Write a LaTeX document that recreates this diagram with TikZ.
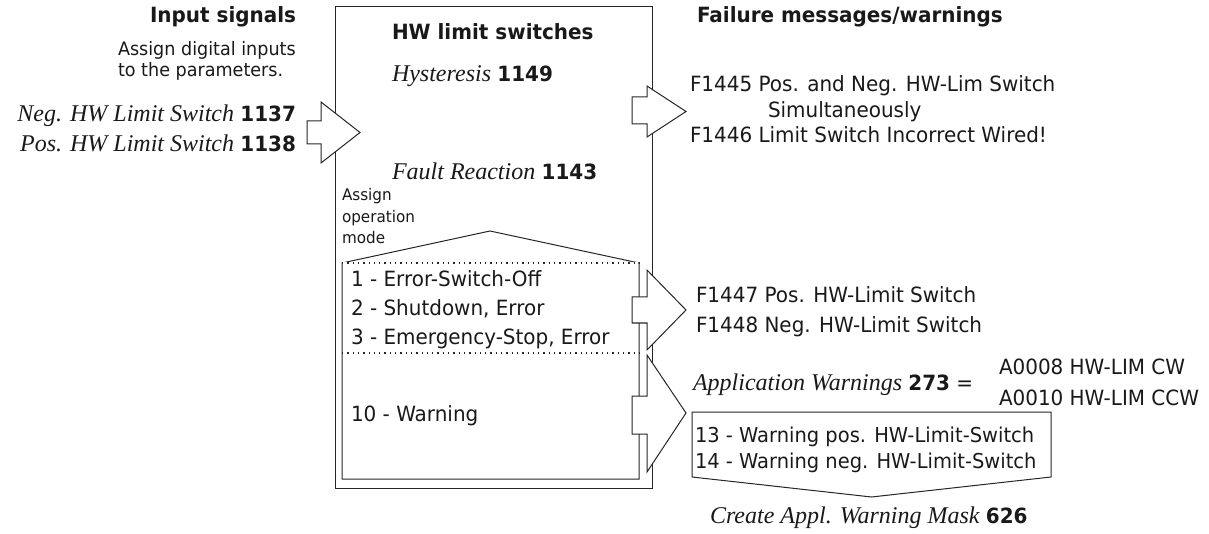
\documentclass[tikz,border=0pt]{standalone}
\usepackage{fontspec}
\setmainfont{Liberation Serif}
\setsansfont{DejaVu Sans}[FakeStretch=0.95]
\newcommand\pit[1]{{\rmfamily\itshape\fontsize{24}{24}\selectfont #1}}
\newcommand\pnum[1]{{\sffamily\bfseries\fontsize{21}{21}\selectfont #1}}
\begin{document}
\begin{tikzpicture}[x=1pt,y=-1pt,
  txt/.style={inner sep=0pt,outer sep=0pt,anchor=base west,text=black!90,font=\sffamily\fontsize{21}{21}\selectfont},
  txtr/.style={txt,anchor=base east},
  headtxt/.style={txt,font=\sffamily\bfseries\fontsize{21}{21}\selectfont},
  smalltxt/.style={txt,font=\sffamily\fontsize{18.5}{18.5}\selectfont},
  tinytxt/.style={txt,font=\sffamily\fontsize{16}{16}\selectfont},
  ln/.style={draw=black!85,line width=1pt,line join=miter},
  dotln/.style={draw=black!85,line width=1.3pt,dash pattern=on 1.3pt off 4pt},
  blockarrow/.style={ln,fill=white}]
\useasboundingbox (0,0) rectangle (1209,534);

% ---------- left: input signals
\node[headtxt,anchor=base east] (insig) at (296,23) {Input signals};
\node[smalltxt] (assign1) at (118,56) {Assign digital inputs};
\node[smalltxt] (assign2) at (118,77) {to the parameters.};
\node[txtr] (neg) at (296,122) {\pit{Neg. HW Limit Switch} \pnum{1137}};
\node[txtr] (pos) at (296,152) {\pit{Pos. HW Limit Switch} \pnum{1138}};

% ---------- main box
\draw[ln] (335,7) rectangle (652,488);
\node[headtxt] (hwtitle) at (392,40) {HW limit switches};
\node[txt] (hyst) at (392,82) {\pit{Hysteresis} \pnum{1149}};
\node[txt] (fault) at (392,180) {\pit{Fault Reaction} \pnum{1143}};
\node[tinytxt] (am1) at (342,201) {Assign};
\node[tinytxt] (am2) at (342,222.5) {operation};
\node[tinytxt] (am3) at (342,244) {mode};

% inner operation-mode box
\draw[ln] (342,263) -- (490,231) -- (639,263) -- (639,479) -- (342,479) -- cycle;
\draw[white,line width=1.2pt] (343,263) -- (638,263);
\draw[dotln] (342,263) -- (639,263);
\draw[dotln] (342,353) -- (639,353);
\node[txt] (m1) at (351,287) {1 - Error-Switch-Off};
\node[txt] (m2) at (351,316) {2 - Shutdown, Error};
\node[txt] (m3) at (351,344) {3 - Emergency-Stop, Error};
\node[txt] (m10) at (351,421) {10 - Warning};

% ---------- block arrows
\draw[blockarrow] (307,121) -- (321,121) -- (321,102) -- (360,132.5) -- (321,163) -- (321,144) -- (307,144) -- cycle;
\draw[blockarrow] (632,97) -- (647,97) -- (647,86) -- (686,111.5) -- (647,137) -- (647,124) -- (632,124) -- cycle;
\draw[blockarrow] (632,297) -- (647,297) -- (647,270) -- (686,310) -- (647,350) -- (647,323) -- (632,323) -- cycle;
\draw[blockarrow] (632,396) -- (647,396) -- (647,355) -- (686,413) -- (647,472) -- (647,434) -- (632,434) -- cycle;

% ---------- right: failure messages
\node[headtxt] (fail) at (697,23) {Failure messages/warnings};
\node[txt] (f1445) at (690,92) {F1445 Pos. and Neg. HW-Lim Switch};
\node[txt] (simul) at (768,118) {Simultaneously};
\node[txt] (f1446) at (690,143) {F1446 Limit Switch Incorrect Wired!};
\node[txt] (f1447) at (696,303) {F1447 Pos. HW-Limit Switch};
\node[txt] (f1448) at (696,332) {F1448 Neg. HW-Limit Switch};
\node[txt] (appw) at (693,390) {\pit{Application Warnings} \pnum{273} =};
\node[txt] (a8) at (999,374) {A0008 HW-LIM CW};
\node[txt] (a10) at (999,405) {A0010 HW-LIM CCW};

% warning box
\draw[ln] (692,412) -- (1051,412) -- (1051,477) -- (871.5,497) -- (692,477) -- cycle;
\node[txt,font=\sffamily\fontsize{20.5}{20.5}\selectfont] (w13) at (695,442) {13 - Warning pos. HW-Limit-Switch};
\node[txt,font=\sffamily\fontsize{20.5}{20.5}\selectfont] (w14) at (695,468) {14 - Warning neg. HW-Limit-Switch};
\node[txt] (mask) at (710,523) {\pit{Create Appl. Warning Mask} \pnum{626}};
\end{tikzpicture}
\end{document}
